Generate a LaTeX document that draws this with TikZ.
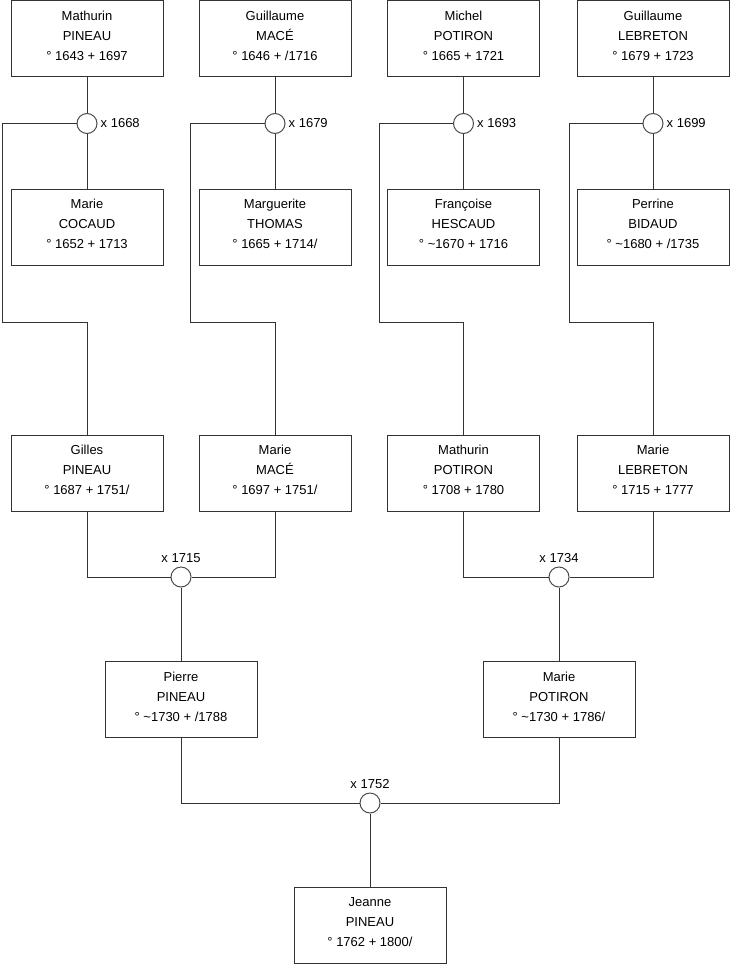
\documentclass[tikz,border=0pt]{standalone}
\usepackage{fontspec}
\setmainfont{Liberation Sans}
\begin{document}
\begin{tikzpicture}[x=1pt,y=-1pt,
  person/.style={draw=black!80, line width=1pt, fill=white, minimum width=152pt, minimum height=76pt, inner sep=0pt},
  ptext/.style={align=center, inner sep=0pt, font=\fontsize{13}{20}\selectfont, yshift=3pt},
  wed/.style={draw=black!70, line width=1pt, fill=white, circle, minimum size=20pt, inner sep=0pt},
  lbl/.style={inner sep=0pt, font=\fontsize{13}{16}\selectfont},
  link/.style={draw=black!80, line width=1pt}]
\useasboundingbox (0,0) rectangle (740,975);
\fill[white] (0,0) rectangle (740,975);
% coordinates
\coordinate (k1) at (2,322);
\coordinate (k2) at (190.5,322);
\coordinate (k3) at (379,322);
\coordinate (k4) at (569,322);
% row 1
\node[person, label={[ptext]center:Mathurin\\PINEAU\\° 1643 + 1697}] (a1) at (87,38.5) {};
\node[person, label={[ptext]center:Guillaume\\MACÉ\\° 1646 + /1716}] (a2) at (275,38.5) {};
\node[person, label={[ptext]center:Michel\\POTIRON\\° 1665 + 1721}] (a3) at (463.5,38.5) {};
\node[person, label={[ptext]center:Guillaume\\LEBRETON\\° 1679 + 1723}] (a4) at (653,38.5) {};
% row 2
\node[person, label={[ptext]center:Marie\\COCAUD\\° 1652 + 1713}] (b1) at (87,227) {};
\node[person, label={[ptext]center:Marguerite\\THOMAS\\° 1665 + 1714/}] (b2) at (275,227) {};
\node[person, label={[ptext]center:Françoise\\HESCAUD\\° \textasciitilde1670 + 1716}] (b3) at (463.5,227) {};
\node[person, label={[ptext]center:Perrine\\BIDAUD\\° \textasciitilde1680 + /1735}] (b4) at (653,227) {};
% row 3
\node[person, label={[ptext]center:Gilles\\PINEAU\\° 1687 + 1751/}] (g1) at (87,473) {};
\node[person, label={[ptext]center:Marie\\MACÉ\\° 1697 + 1751/}] (g2) at (275,473) {};
\node[person, label={[ptext]center:Mathurin\\POTIRON\\° 1708 + 1780}] (g3) at (463.5,473) {};
\node[person, label={[ptext]center:Marie\\LEBRETON\\° 1715 + 1777}] (g4) at (653,473) {};
% row 4
\node[person, label={[ptext]center:Pierre\\PINEAU\\° \textasciitilde1730 + /1788}] (p1) at (181,699.5) {};
\node[person, label={[ptext]center:Marie\\POTIRON\\° \textasciitilde1730 + 1786/}] (p2) at (559,699.5) {};
% row 5
\node[person, label={[ptext]center:Jeanne\\PINEAU\\° 1762 + 1800/}] (j) at (370,925.5) {};
% marriages
\node[wed] (m1) at (87,123.5) {};
\node[wed] (m2) at (275,123.5) {};
\node[wed] (m3) at (463.5,123.5) {};
\node[wed] (m4) at (653,123.5) {};
\node[wed] (m5) at (181,577) {};
\node[wed] (m6) at (559,577) {};
\node[wed] (m7) at (370,803) {};
% marriage labels
\node[lbl, anchor=west] (l1) at ([xshift=3pt]m1.east) {x 1668};
\node[lbl, anchor=west] (l2) at ([xshift=3pt]m2.east) {x 1679};
\node[lbl, anchor=west] (l3) at ([xshift=3pt]m3.east) {x 1693};
\node[lbl, anchor=west] (l4) at ([xshift=3pt]m4.east) {x 1699};
\node[lbl, anchor=base] (l5) at ([yshift=4pt]m5.north) {x 1715};
\node[lbl, anchor=base] (l6) at ([yshift=4pt]m6.north) {x 1734};
\node[lbl, anchor=base] (l7) at ([yshift=4pt]m7.north) {x 1752};
% connectors
\foreach \i in {1,2,3,4}{
  \draw[link] (a\i.south) -- (m\i.north);
  \draw[link] (m\i.south) -- (b\i.north);
  \draw[link] (m\i.west) -| (k\i) -| (g\i.north);
}
\draw[link] (g1.south) |- (m5.west);
\draw[link] (g2.south) |- (m5.east);
\draw[link] (m5.south) -- (p1.north);
\draw[link] (g3.south) |- (m6.west);
\draw[link] (g4.south) |- (m6.east);
\draw[link] (m6.south) -- (p2.north);
\draw[link] (p1.south) |- (m7.west);
\draw[link] (p2.south) |- (m7.east);
\draw[link] (m7.south) -- (j.north);
\end{tikzpicture}
\end{document}
